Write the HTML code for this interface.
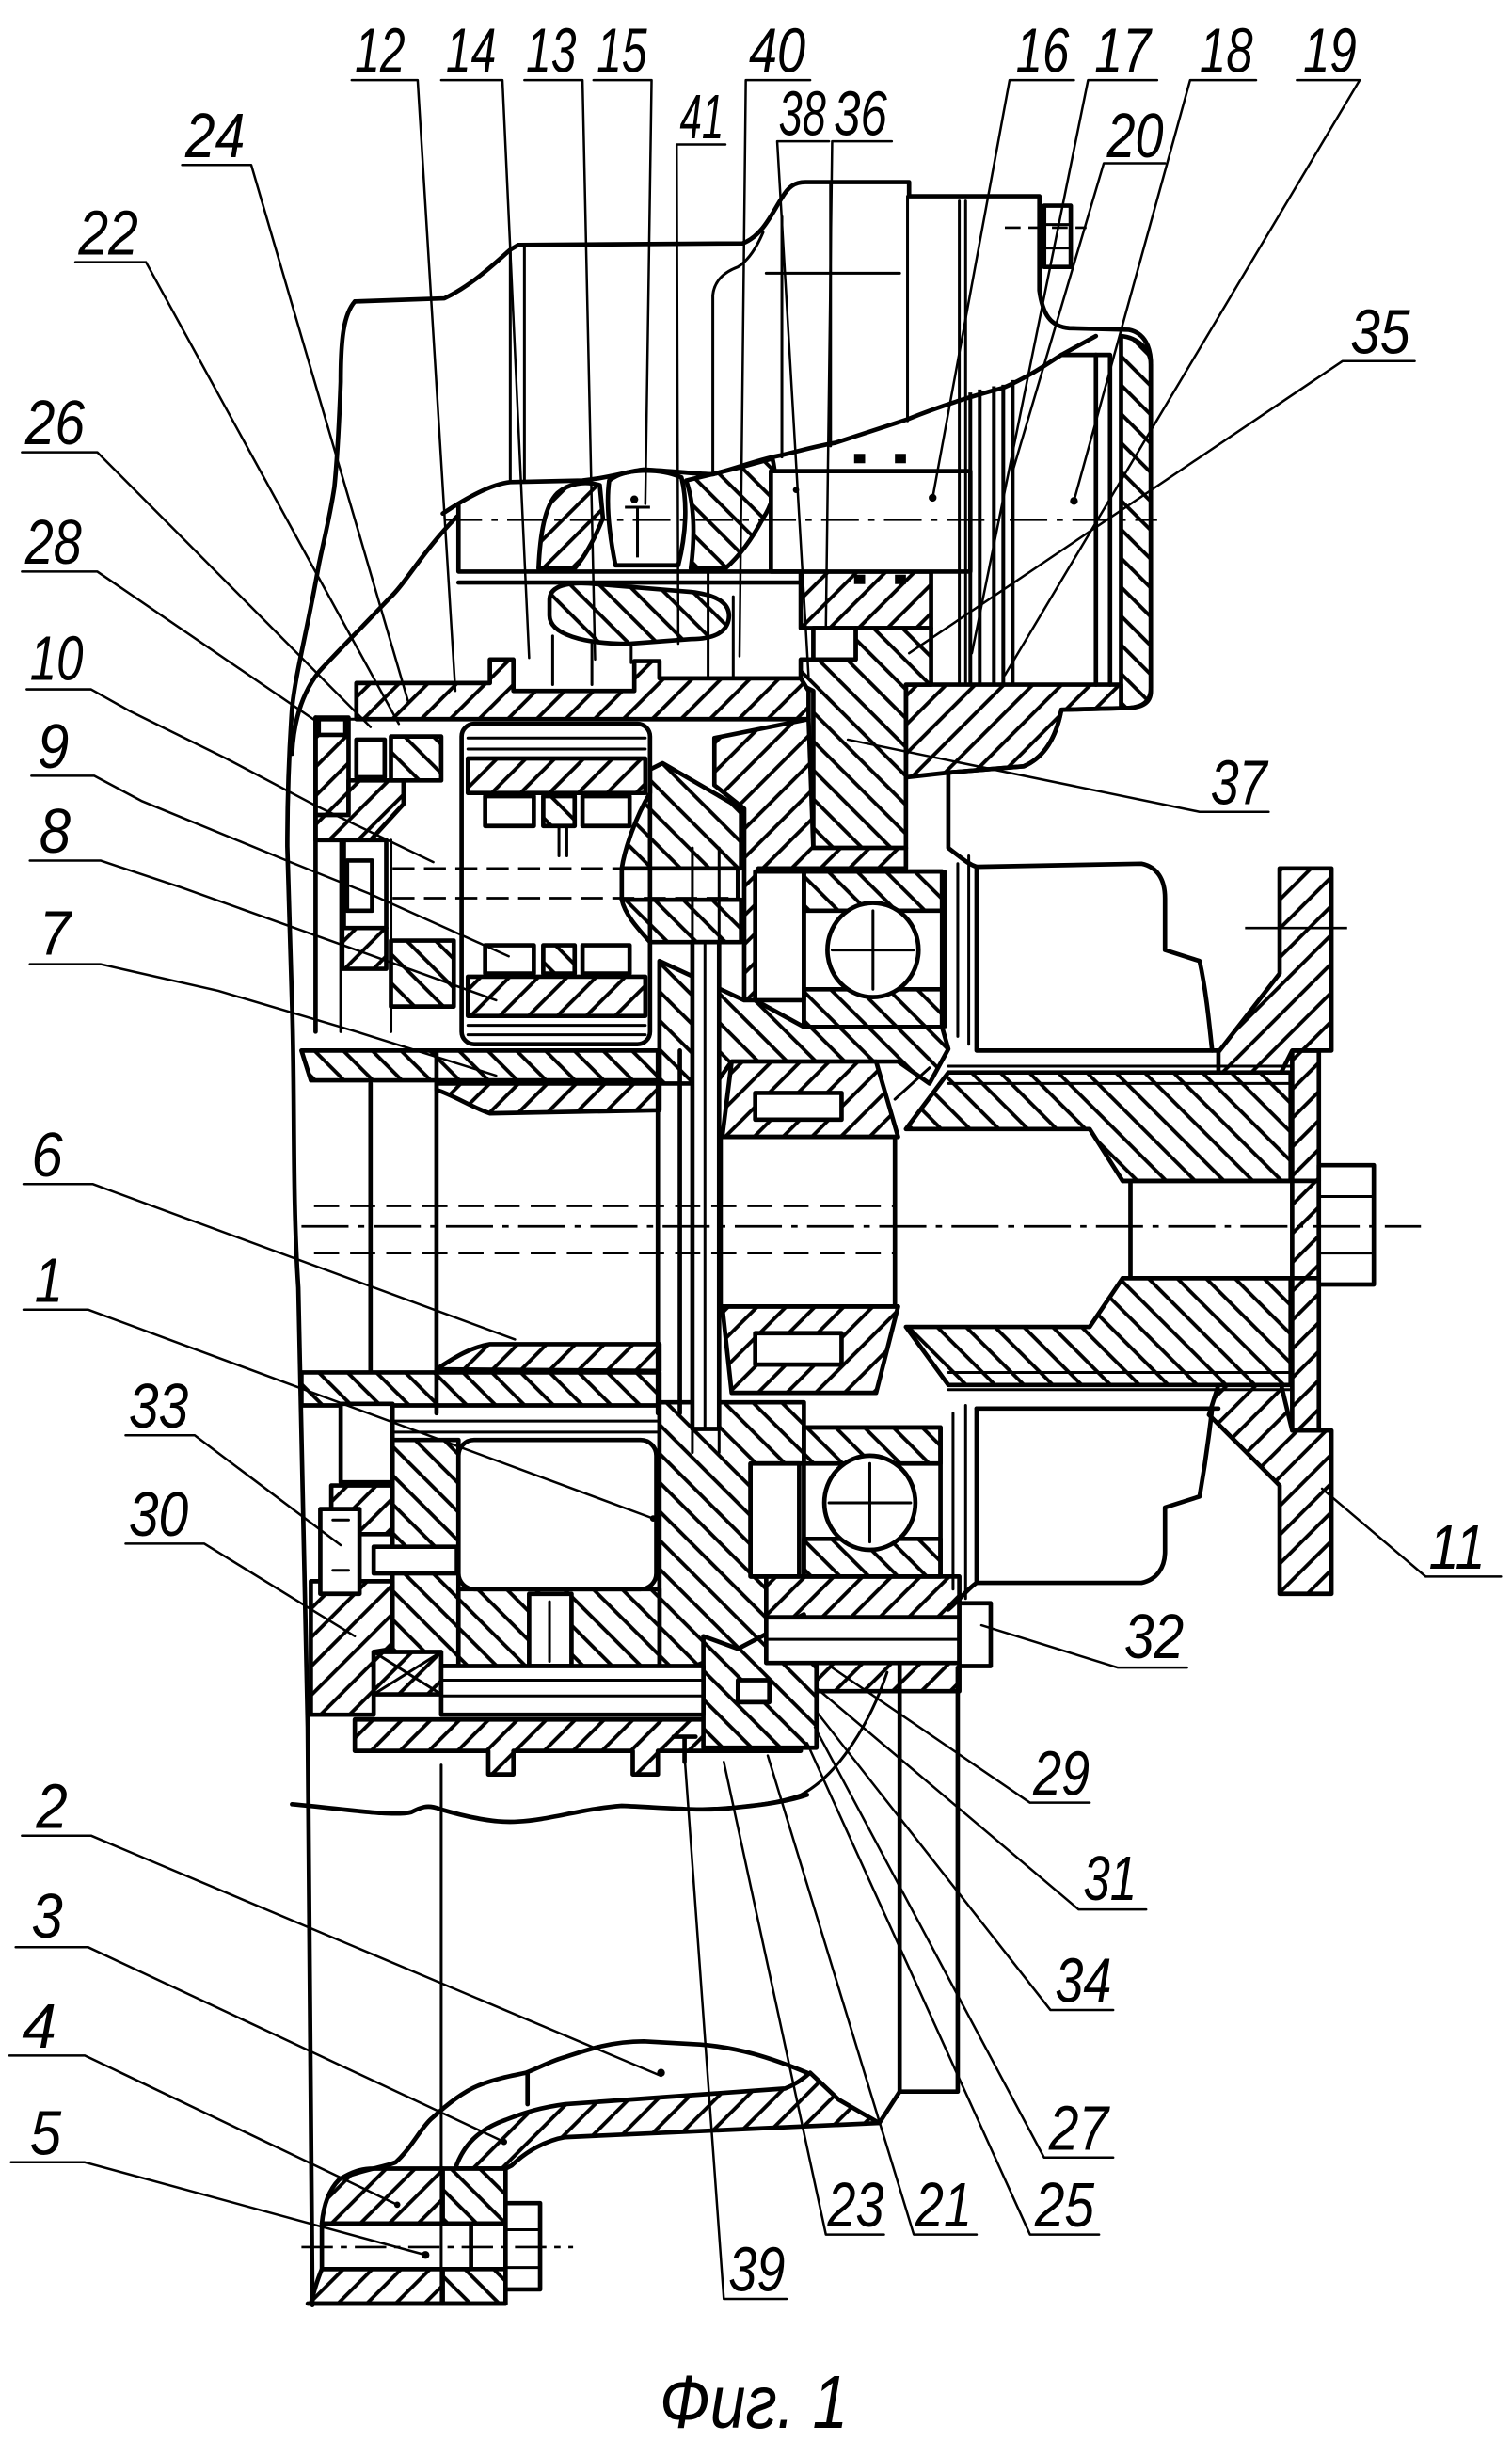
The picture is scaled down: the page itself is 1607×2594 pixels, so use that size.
<!DOCTYPE html>
<html><head><meta charset="utf-8"><style>
html,body{margin:0;padding:0;background:#fff;}
svg{display:block;}
text{font-family:"Liberation Sans",sans-serif;font-style:italic;fill:#000;stroke:none;}
</style></head><body>
<svg xmlns="http://www.w3.org/2000/svg" width="1607" height="2594" viewBox="0 0 963 1554.5" preserveAspectRatio="none">
<defs>
<pattern id="hA" patternUnits="userSpaceOnUse" width="13" height="13" patternTransform="rotate(45)"><rect width="13" height="13" fill="#fff"/><line x1="6.5" y1="-1" x2="6.5" y2="14" stroke="#000" stroke-width="2.3"/></pattern>
<pattern id="hB" patternUnits="userSpaceOnUse" width="13" height="13" patternTransform="rotate(-45)"><rect width="13" height="13" fill="#fff"/><line x1="6.5" y1="-1" x2="6.5" y2="14" stroke="#000" stroke-width="2.3"/></pattern>
</defs>
<rect width="963" height="1554.5" fill="#fff"/>

<g stroke="#000" stroke-width="2.8" stroke-linejoin="round">
<path d="M714,214 C724,215 733,222 733,232 L733,440 C733,448 727,451 716,451 L714,451 Z" fill="url(#hB)"/>
<path d="M577,436 L714,436 L714,451 L676,452 C673,468 666,482 652,488 L604,492 L577,495 Z" fill="url(#hA)"/>
<path d="M510,364 L593,364 L593,400 L510,400 Z" fill="url(#hA)"/>
<path d="M510,420 L545,420 L545,400 L593,400 L593,436 L577,436 L577,540 L518,540 L518,440 L510,436 Z" fill="url(#hB)"/>
<path d="M343,362 C344,340 347,322 355,314 C362,308 372,306 382,309 L384,330 C378,345 372,355 366,362 Z" fill="url(#hA)"/>
<path d="M437,306 L470,298 L492,292 C495,305 494,318 486,330 C478,345 470,355 462,362 L440,362 C443,340 442,320 437,306 Z" fill="url(#hB)"/>
<path d="M350,382 C350,373 362,370 380,372 L440,377 C458,379 466,385 464,395 C462,404 452,407 440,407 L400,410 C372,410 350,404 350,392 Z" fill="url(#hB)"/>
<path d="M227,435 L312,435 L312,420 L327,420 L327,440 L404,440 L404,421 L420,421 L420,432 L510,432 L515,440 L515,458 L227,458 Z" fill="url(#hA)"/>
<path d="M201,457 L222,457 L222,519 L201,519 Z" fill="url(#hA)"/>
<path d="M201,519 L222,519 L222,497 L257,497 L257,512 L236,535 L201,535 Z" fill="url(#hA)"/>
<path d="M249,469 L281,469 L281,497 L249,497 Z" fill="url(#hB)"/>
<path d="M218,591 L246,591 L246,617 L218,617 Z" fill="url(#hA)"/>
<path d="M249,599 L289,599 L289,641 L249,641 Z" fill="url(#hB)"/>
<rect x="298" y="483" width="113" height="22" fill="url(#hA)"/>
<rect x="298" y="622" width="113" height="25" fill="url(#hA)"/>
<rect x="346" y="507" width="20" height="19" fill="url(#hB)"/>
<rect x="346" y="602" width="20" height="18" fill="url(#hB)"/>
<path d="M414,490 L422,486 L472,515 L472,553 L396,553 C398,540 405,520 414,505 Z" fill="url(#hB)"/>
<path d="M396,573 L472,573 L472,600 L414,600 C405,590 398,582 396,573 Z" fill="url(#hB)"/>
<path d="M455,470 L515,458 L518,540 L577,540 L577,553 L483,553 L483,637 L474,637 L474,515 L455,500 Z" fill="url(#hA)"/>
<rect x="512" y="555" width="88" height="25" fill="url(#hB)"/>
<rect x="512" y="630" width="88" height="24" fill="url(#hB)"/>
<path d="M420,612 L474,637 L481,637 L512,654 L600,654 L604,668 L592,690 L572,676 L466,676 L456,690 L420,690 Z" fill="url(#hB)"/>
<path d="M466,676 L558,676 L572,724 L460,724 Z" fill="url(#hA)"/>
<path d="M460,832 L572,832 L558,887 L466,887 Z" fill="url(#hA)"/>
<path d="M604,683 L822,683 L822,752 L715,752 L694,719 L577,719 Z" fill="url(#hB)"/>
<path d="M577,845 L694,845 L715,814 L822,814 L822,882 L604,882 Z" fill="url(#hB)"/>
<rect x="823" y="669" width="17" height="242" fill="url(#hA)"/>
<path d="M815,553 L848,553 L848,669 L823,669 L816,683 L776,683 L776,670 L815,620 Z" fill="url(#hA)"/>
<path d="M776,882 L816,882 L823,911 L848,911 L848,1015 L815,1015 L815,946 L770,901 Z" fill="url(#hA)"/>
<path d="M192,669 L420,669 L420,688 L198,688 Z" fill="url(#hB)"/>
<path d="M278,690 L420,690 L420,707 L312,709 C300,705 290,698 278,694 Z" fill="url(#hA)"/>
<path d="M192,874 L420,874 L420,895 L192,895 Z" fill="url(#hB)"/>
<path d="M278,872 C290,864 300,858 312,856 L420,856 L420,873 Z" fill="url(#hA)"/>
<path d="M420,893 L512,893 L512,932 L478,932 L478,1004 L512,1004 L512,1028 L470,1050 L440,1062 L420,1062 Z" fill="url(#hB)"/>
<rect x="250" y="917" width="42" height="144" fill="url(#hB)"/>
<rect x="292" y="1012" width="128" height="50" fill="url(#hB)"/>
<rect x="512" y="909" width="87" height="23" fill="url(#hB)"/>
<rect x="512" y="980" width="87" height="24" fill="url(#hB)"/>
<rect x="488" y="1004" width="123" height="26" fill="url(#hA)"/>
<rect x="488" y="1059" width="123" height="18" fill="url(#hA)"/>
<rect x="211" y="946" width="39" height="31" fill="url(#hA)"/>
<path d="M198,1007 L250,1007 L250,1050 L238,1052 L238,1092 L198,1092 Z" fill="url(#hA)"/>
<rect x="238" y="1052" width="43" height="27" fill="url(#hA)"/>
<path d="M226,1095 L510,1095 L510,1115 L419,1115 L419,1130 L403,1130 L403,1115 L327,1115 L327,1130 L311,1130 L311,1115 L226,1115 Z" fill="url(#hA)"/>
<path d="M448,1042 L470,1050 L512,1028 L520,1060 L520,1113 L448,1113 Z" fill="url(#hB)"/>
<path d="M290,1381 C295,1366 305,1356 322,1350 C335,1345 345,1342 360,1340 L500,1330 C508,1327 512,1323 516,1320 L534,1337 L560,1352 L360,1361 C348,1363 335,1370 326,1379 L322,1381 Z" fill="url(#hA)"/>
<path d="M216,1388 C224,1383 230,1381 238,1381 L282,1381 L282,1416 L205,1416 C206,1405 209,1395 216,1388 Z" fill="url(#hA)"/>
<path d="M205,1445 L282,1445 L282,1467 L198,1467 C200,1459 202,1452 205,1445 Z" fill="url(#hA)"/>
<path d="M282,1381 L322,1381 L322,1416 L282,1416 Z" fill="url(#hB)"/>
<path d="M282,1445 L322,1445 L322,1467 L282,1467 Z" fill="url(#hB)"/>
</g>

<g stroke="#000" stroke-width="2.8" fill="#fff" stroke-linejoin="round">
<rect x="665" y="131" width="17" height="39"/>
<rect x="491" y="300" width="127" height="64"/>
<path d="M388,306 C398,298 420,298 434,304 C438,320 437,340 432,360 L392,360 C388,340 386,320 388,306 Z"/>
<rect x="518" y="400" width="27" height="20"/>
<rect x="203" y="458" width="17" height="10"/>
<rect x="227" y="471" width="18" height="24"/>
<rect x="219" y="535" width="27" height="56"/>
<rect x="221" y="548" width="16" height="32"/>
<rect x="309" y="507" width="31" height="19"/>
<rect x="371" y="507" width="30" height="19"/>
<rect x="309" y="602" width="31" height="18"/>
<rect x="371" y="602" width="30" height="18"/>
<rect x="396" y="553" width="74" height="20"/>
<rect x="481" y="555" width="31" height="82"/>
<rect x="512" y="555" width="88" height="99" fill="none"/>
<ellipse cx="556" cy="605" rx="29" ry="30"/>
<rect x="481" y="696" width="55" height="17"/>
<rect x="481" y="849" width="55" height="20"/>
<rect x="459" y="724" width="111" height="108"/>
<rect x="441" y="600" width="17" height="310"/>
<rect x="840" y="742" width="35" height="76"/>
<rect x="292" y="917" width="126" height="95" rx="10"/>
<rect x="337" y="1015" width="27" height="46"/>
<rect x="478" y="932" width="31" height="72"/>
<rect x="512" y="909" width="87" height="95" fill="none"/>
<ellipse cx="554" cy="957" rx="29" ry="30"/>
<rect x="488" y="1030" width="123" height="29"/>
<rect x="611" y="1021" width="20" height="40"/>
<rect x="217" y="894" width="33" height="50"/>
<rect x="204" y="961" width="25" height="54"/>
<rect x="238" y="985" width="53" height="17"/>
<rect x="281" y="1061" width="167" height="31"/>
<rect x="470" y="1070" width="20" height="14"/>
<rect x="294" y="461" width="120" height="204" rx="8" fill="none"/>
<rect x="205" y="1416" width="95" height="29"/>
<rect x="322" y="1403" width="22" height="55"/>
</g>

<g stroke="#000" stroke-width="2.8" fill="none" stroke-linejoin="round" stroke-linecap="round">
<path d="M226,192 L283,190 C300,182 315,168 325,159 L330,156 L473,155 C486,150 492,135 498,126 C502,119 506,116 513,116 L579,116 L579,125 L662,125 L662,185 C664,200 669,208 681,209 L719,210 C729,212 733,221 733,232 L733,438 C733,448 726,451 716,451 L676,452 C673,468 666,482 652,488 L604,492"/>
<path d="M226,192 C219,200 217,215 217,243 C216,270 215,290 213,310 C210,330 206,345 203,360 C196,400 188,430 186,451 C184,480 183,510 183,539 L186,640 C188,700 186,760 190,820 C192,900 194,1000 196,1100 L199,1468"/>
<path d="M291,329 C270,350 258,372 248,381 C230,400 212,418 203,428 C192,442 187,460 186,480"/>
<path d="M282,327 C300,315 315,308 325,307 L371,306 C390,304 400,300 410,299 C430,300 445,302 454,302 C470,298 485,292 497,290 C510,287 520,284 532,282 L578,267 C600,258 620,252 639,247 C655,240 665,233 676,226 L698,214"/>
<path d="M676,226 L707,226 L707,436"/>
<path d="M698,226 L698,436"/>
<path d="M292,322 L292,364 L510,364"/>
<path d="M292,371 L510,371"/>
<path d="M604,492 L604,540 C612,546 616,550 622,552 L727,550 C737,552 742,560 742,572 L742,605 L764,612 C768,630 770,650 772,669"/>
<path d="M622,552 L622,669 L776,669"/>
<path d="M622,897 L776,897"/>
<path d="M622,897 L622,1008 L727,1008 C737,1006 742,998 742,988 L742,960 L764,953 C768,930 770,915 772,897"/>
<path d="M604,1025 C612,1018 616,1012 622,1008"/>
<path d="M715,752 L840,752 M715,814 L840,814 M720,752 L720,814"/>
<path d="M236,690 L236,873 M278,669 L278,900 M419,669 L419,900 M433,669 L433,900"/>
<path d="M186,1149 C220,1152 250,1157 262,1154 C268,1151 272,1149 280,1152 C300,1158 318,1161 330,1160 C350,1159 370,1152 396,1150 C420,1151 440,1153 460,1152 C480,1150 500,1148 514,1143"/>
<path d="M573,1060 L573,1332 L610,1332 L610,1062"/>
<path d="M560,1352 L573,1332"/>
<path d="M218,1387 C230,1382 245,1380 252,1377 C262,1368 268,1355 275,1349 C285,1340 295,1332 305,1328 C315,1324 325,1322 335,1320 C345,1316 352,1312 360,1310 C375,1305 390,1300 410,1300 L446,1302 C470,1304 490,1310 514,1320"/>
<path d="M336,1340 L336,1321"/>
<path d="M196,1467 L322,1467"/>
<path d="M436,1106 L436,1122 M429,1106 L443,1106"/>
<path d="M201,457 L201,657"/>
</g>

<g stroke="#000" stroke-width="1.8" fill="none" stroke-linecap="round">
<path d="M325,160 L325,307 M334,157 L334,306 M498,138 L498,291 M529,117 L529,284 M578,125 L578,268 M488,174 L573,174"/>
<path d="M454,302 L454,188 C455,178 462,173 470,170 C478,165 483,155 486,148"/>
<path d="M611,128 L611,436 M615,128 L615,436"/>
<path d="M665,143 L682,143 M665,158 L682,158"/>
<path d="M352,405 L352,436 M377,410 L377,436 M451,362 L451,432 M467,380 L467,432 M402,410 L402,422"/>
<path d="M217,535 L217,657 M249,535 L249,657 M222,458 L294,458"/>
<path d="M298,470 L411,470 M298,477 L411,477 M298,653 L411,653 M298,659 L411,659"/>
<path d="M356,526 L356,545 M361,526 L361,545"/>
<path d="M449,600 L449,910 M441,540 L441,600 M458,540 L458,600 M441,910 L441,925 M458,910 L458,925"/>
<path d="M530,605 L582,605 M556,580 L556,630 M528,957 L580,957 M554,932 L554,982"/>
<path d="M602,555 L602,654 M610,550 L610,660 M617,545 L617,665"/>
<path d="M599,909 L599,1004 M607,900 L607,1012 M615,895 L615,1018"/>
<path d="M570,700 L592,680"/>
<path d="M604,679 L822,679 M604,690 L822,690 M604,874 L822,874 M604,885 L822,885"/>
<path d="M840,762 L875,762 M840,798 L875,798"/>
<path d="M250,905 L420,905 M250,912 L420,912"/>
<path d="M350,1020 L350,1058"/>
<path d="M488,1044 L611,1044"/>
<path d="M281,1070 L448,1070 M281,1080 L448,1080"/>
<path d="M212,968 L222,968 M212,1000 L222,1000"/>
<path d="M565,1065 C555,1095 535,1130 510,1143 C490,1150 460,1152 433,1152"/>
<path d="M281,1124 L281,1467"/>
<path d="M322,1420 L344,1420 M322,1444 L344,1444"/>
<path d="M238,1052 L281,1079 M281,1052 L238,1079"/>
</g>
<g stroke="#000" stroke-width="2.4" fill="none">
<path d="M618,250 L618,436 M624,248 L624,436 M633,246 L633,436 M639,245 L639,436 M645,242 L645,436"/>
</g>

<g stroke="#000" stroke-width="1.6" fill="none">
<path d="M192,781 L905,781" stroke-dasharray="30 6 4 6"/>
<path d="M200,768 L570,768 M200,798 L570,798" stroke-dasharray="16 7"/>
<path d="M250,553 L470,553 M250,572 L470,572" stroke-dasharray="14 6"/>
<path d="M283,331 L737,331" stroke-dasharray="24 6 4 6"/>
<path d="M640,145 L692,145" stroke-dasharray="10 5"/>
<path d="M793,591 L858,591"/>
<path d="M192,1431 L365,1431" stroke-dasharray="20 5 4 5"/>
</g>

<g fill="#000">
<rect x="544" y="289" width="7" height="6"/><rect x="570" y="289" width="7" height="6"/>
<rect x="544" y="366" width="7" height="6"/><rect x="570" y="366" width="7" height="6"/>
<circle cx="404" cy="318" r="2.5"/><circle cx="594" cy="317" r="2.5"/><circle cx="684" cy="319" r="2.5"/>
<circle cx="507" cy="312" r="2"/><circle cx="421" cy="1320" r="2.5"/><circle cx="271" cy="1436" r="2.5"/>
<circle cx="253" cy="1404" r="2"/><circle cx="321" cy="1364" r="2"/><circle cx="416" cy="967" r="2"/>
</g>
<g stroke="#000" stroke-width="1.8" fill="none">
<path d="M398,323 L414,323 M406,323 L406,355"/>
</g>

<g stroke="#000" stroke-width="1.5" fill="none" stroke-linecap="round" stroke-linejoin="round">
<path d="M224,51 L266,51 L290,440"/>
<path d="M281,51 L320,51 L337,419"/>
<path d="M334,51 L371,51 L379,420"/>
<path d="M378,51 L415,51 L411,321"/>
<path d="M516,51 L475,51 L471,418"/>
<path d="M462,92 L431,92 L432,410"/>
<path d="M528,90 L495,90 L515,431"/>
<path d="M568,90 L530,90 L526,400"/>
<path d="M684,51 L643,51 L594,317"/>
<path d="M737,51 L693,51 L619,416"/>
<path d="M800,51 L758,51 L684,319"/>
<path d="M826,51 L866,51 L640,430"/>
<path d="M742,104 L703,104 L645,300"/>
<path d="M116,105 L160,105 L260,447"/>
<path d="M48,167 L93,167 L254,461"/>
<path d="M901,230 L855,230 L579,416"/>
<path d="M14,288 L62,288 L236,463"/>
<path d="M14,364 L62,364 L201,459"/>
<path d="M17,439 L58,439 L83,453 L144,483 L201,513 L276,549"/>
<path d="M20,494 L60,494 L90,510 L185,549 L235,569 L324,609"/>
<path d="M19,548 L64,548 L115,565 L171,585 L227,605 L316,637"/>
<path d="M19,614 L64,614 L139,631 L227,657 L316,685"/>
<path d="M808,517 L764,517 L540,471"/>
<path d="M15,754 L59,754 L328,853"/>
<path d="M15,834 L56,834 L416,967"/>
<path d="M80,914 L124,914 L217,984"/>
<path d="M80,983 L130,983 L226,1042"/>
<path d="M956,1004 L908,1004 L842,948"/>
<path d="M756,1062 L712,1062 L625,1035"/>
<path d="M694,1148 L656,1148 L530,1062"/>
<path d="M730,1216 L687,1216 L520,1075"/>
<path d="M709,1280 L669,1280 L520,1090"/>
<path d="M709,1374 L665,1374 L519,1100"/>
<path d="M700,1423 L656,1423 L514,1110"/>
<path d="M622,1423 L582,1423 L489,1118"/>
<path d="M563,1423 L526,1423 L461,1122"/>
<path d="M501,1464 L461,1464 L436,1118"/>
<path d="M14,1169 L58,1169 L421,1322"/>
<path d="M10,1240 L56,1240 L321,1364"/>
<path d="M6,1309 L54,1309 L253,1404"/>
<path d="M7,1377 L54,1377 L271,1436"/>
</g>

<g font-size="40">
<text x="226" y="46" textLength="32" lengthAdjust="spacingAndGlyphs">12</text>
<text x="284" y="46" textLength="32" lengthAdjust="spacingAndGlyphs">14</text>
<text x="335" y="46" textLength="32" lengthAdjust="spacingAndGlyphs">13</text>
<text x="380" y="46" textLength="32" lengthAdjust="spacingAndGlyphs">15</text>
<text x="477" y="46" textLength="36" lengthAdjust="spacingAndGlyphs">40</text>
<text x="433" y="88" textLength="28" lengthAdjust="spacingAndGlyphs">41</text>
<text x="496" y="86" textLength="30" lengthAdjust="spacingAndGlyphs">38</text>
<text x="531" y="86" textLength="34" lengthAdjust="spacingAndGlyphs">36</text>
<text x="647" y="46" textLength="34" lengthAdjust="spacingAndGlyphs">16</text>
<text x="697" y="46" textLength="36" lengthAdjust="spacingAndGlyphs">17</text>
<text x="764" y="46" textLength="34" lengthAdjust="spacingAndGlyphs">18</text>
<text x="830" y="46" textLength="34" lengthAdjust="spacingAndGlyphs">19</text>
<text x="705" y="100" textLength="36" lengthAdjust="spacingAndGlyphs">20</text>
<text x="118" y="100" textLength="38" lengthAdjust="spacingAndGlyphs">24</text>
<text x="50" y="162" textLength="38" lengthAdjust="spacingAndGlyphs">22</text>
<text x="860" y="225" textLength="38" lengthAdjust="spacingAndGlyphs">35</text>
<text x="16" y="283" textLength="38" lengthAdjust="spacingAndGlyphs">26</text>
<text x="16" y="359" textLength="36" lengthAdjust="spacingAndGlyphs">28</text>
<text x="19" y="433" textLength="34" lengthAdjust="spacingAndGlyphs">10</text>
<text x="24" y="489" textLength="20" lengthAdjust="spacingAndGlyphs">9</text>
<text x="25" y="543" textLength="20" lengthAdjust="spacingAndGlyphs">8</text>
<text x="25" y="608" textLength="20" lengthAdjust="spacingAndGlyphs">7</text>
<text x="771" y="512" textLength="36" lengthAdjust="spacingAndGlyphs">37</text>
<text x="20" y="749" textLength="20" lengthAdjust="spacingAndGlyphs">6</text>
<text x="22" y="829" textLength="18" lengthAdjust="spacingAndGlyphs">1</text>
<text x="82" y="909" textLength="38" lengthAdjust="spacingAndGlyphs">33</text>
<text x="82" y="978" textLength="38" lengthAdjust="spacingAndGlyphs">30</text>
<text x="910" y="999" textLength="36" lengthAdjust="spacingAndGlyphs">11</text>
<text x="716" y="1056" textLength="38" lengthAdjust="spacingAndGlyphs">32</text>
<text x="658" y="1143" textLength="36" lengthAdjust="spacingAndGlyphs">29</text>
<text x="690" y="1210" textLength="34" lengthAdjust="spacingAndGlyphs">31</text>
<text x="672" y="1275" textLength="36" lengthAdjust="spacingAndGlyphs">34</text>
<text x="668" y="1369" textLength="38" lengthAdjust="spacingAndGlyphs">27</text>
<text x="659" y="1418" textLength="38" lengthAdjust="spacingAndGlyphs">25</text>
<text x="583" y="1418" textLength="36" lengthAdjust="spacingAndGlyphs">21</text>
<text x="527" y="1418" textLength="36" lengthAdjust="spacingAndGlyphs">23</text>
<text x="464" y="1459" textLength="36" lengthAdjust="spacingAndGlyphs">39</text>
<text x="23" y="1164" textLength="20" lengthAdjust="spacingAndGlyphs">2</text>
<text x="20" y="1234" textLength="20" lengthAdjust="spacingAndGlyphs">3</text>
<text x="14" y="1304" textLength="22" lengthAdjust="spacingAndGlyphs">4</text>
<text x="19" y="1372" textLength="20" lengthAdjust="spacingAndGlyphs">5</text>
</g>
<text x="420" y="1546" font-size="48" textLength="120" lengthAdjust="spacingAndGlyphs">Фиг. 1</text>
</svg>
</body></html>
